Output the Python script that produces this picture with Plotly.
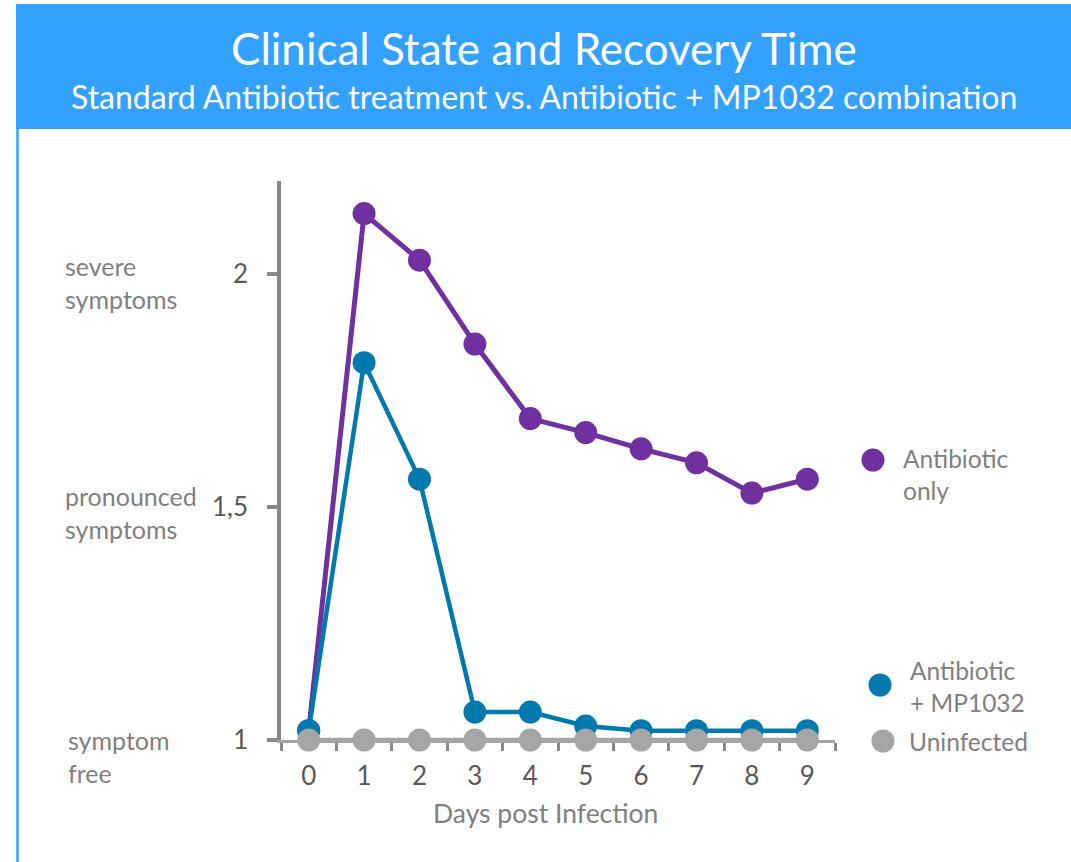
import plotly.graph_objects as go

# ---------------- data ----------------
days = [0, 1, 2, 3, 4, 5, 6, 7, 8, 9]
antibiotic_only = [1.02, 2.13, 2.03, 1.85, 1.69, 1.66, 1.625, 1.595, 1.53, 1.56]
antibiotic_mp1032 = [1.02, 1.81, 1.56, 1.06, 1.06, 1.03, 1.02, 1.02, 1.02, 1.02]
uninfected = [1, 1, 1, 1, 1, 1, 1, 1, 1, 1]

series_names = ["Antibiotic only", "Antibiotic + MP1032", "Uninfected"]
legend_labels = ["Antibiotic<br>only", "Antibiotic<br>+ MP1032", "Uninfected"]

y_tickvals = [1, 1.5, 2]
y_ticktext = ["1", "1,5", "2"]
level_values = [1, 1.5, 2]
level_labels = ["symptom<br>free", "pronounced<br>symptoms", "severe<br>symptoms"]

title_text = "Clinical State and Recovery Time"
subtitle_text = "Standard Antibiotic treatment vs. Antibiotic + MP1032 combination"
x_title = "Days post Infection"

# ---------------- style ----------------
W, H = 1071, 862
L, R, T, B = 281, 835, 181, 740
FONT = "Lato"
PURPLE = "#7030A0"
TEAL = "#0079AE"
GRAY = "#A5A5A5"
HEADER = "#33A1FF"
AXIS = "#888888"
DARK = "#595959"
MID = "#808080"


def px(x):
    return (x - L) / (R - L)


def py(y):
    return (B - y) / (B - T)


fig = go.Figure()
colors = [PURPLE, TEAL, GRAY]
widths = [5, 4.5, 4.5]
for name, vals, c, w in zip(series_names, [antibiotic_only, antibiotic_mp1032, uninfected], colors, widths):
    fig.add_trace(go.Scatter(
        x=days, y=vals, name=name, mode="lines+markers",
        line=dict(color=c, width=w),
        marker=dict(color=c, size=23),
        cliponaxis=False, showlegend=False,
    ))

shapes = [
    # header band
    dict(type="rect", xref="paper", yref="paper", x0=px(16), x1=px(1075), y0=py(129), y1=py(4),
         fillcolor=HEADER, line=dict(width=0), layer="below"),
    # left border line
    dict(type="line", xref="paper", yref="paper", x0=px(17.5), x1=px(17.5), y0=py(129), y1=py(870),
         line=dict(color=HEADER, width=2.5), layer="below"),
]

annotations = [
    dict(text=title_text, xref="paper", yref="paper", x=px(544), y=py(48),
         xanchor="center", yanchor="middle", showarrow=False,
         font=dict(family=FONT, size=44, color="white")),
    dict(text=subtitle_text, xref="paper", yref="paper", x=px(544), y=py(97),
         xanchor="center", yanchor="middle", showarrow=False,
         font=dict(family=FONT, size=32, color="white")),
    dict(text=x_title, xref="paper", yref="paper", x=px(545), y=py(813),
         xanchor="center", yanchor="middle", showarrow=False,
         font=dict(family=FONT, size=26.5, color=MID)),
]

# y level descriptions
level_shift = [-16, -5, -8]
level_x = [66, 63, 63]
for v, lab, sh, lx in zip(level_values, level_labels, level_shift, level_x):
    annotations.append(dict(text=lab, xref="paper", yref="y", x=px(lx), y=v, yshift=sh,
                            xanchor="left", yanchor="middle", align="left", showarrow=False,
                            font=dict(family=FONT, size=25, color=MID)))

# legend (dots + labels)
legend_dot = [(873, 460), (880, 685), (883, 741)]
legend_txt = [(901, 474), (908, 686), (907, 741)]
for c, lab, (dx, dy), (tx, ty) in zip(colors, legend_labels, legend_dot, legend_txt):
    shapes.append(dict(type="circle", xref="paper", yref="paper", xsizemode="pixel", ysizemode="pixel",
                       xanchor=px(dx), yanchor=py(dy), x0=-11.5, x1=11.5, y0=-11.5, y1=11.5,
                       fillcolor=c, line=dict(width=0)))
    annotations.append(dict(text=lab, xref="paper", yref="paper", x=px(tx), y=py(ty),
                            xanchor="left", yanchor="middle", align="left", showarrow=False,
                            font=dict(family=FONT, size=24.5, color=MID)))

fig.update_layout(
    width=W, height=H,
    margin=dict(l=L, r=W - R, t=T, b=H - B, pad=0),
    paper_bgcolor="white", plot_bgcolor="white",
    font=dict(family=FONT),
    shapes=shapes, annotations=annotations,
    showlegend=False,
    xaxis=dict(
        range=[-0.5, 9.5], tickvals=days, ticktext=[str(d) for d in days],
        showgrid=False, zeroline=False,
        showline=True, linecolor=GRAY, linewidth=3,
        ticks="outside", ticklen=11, tickcolor="rgba(0,0,0,0)",
        tickfont=dict(family=FONT, size=26, color=DARK),
        minor=dict(tickvals=[-0.5, 0.5, 1.5, 2.5, 3.5, 4.5, 5.5, 6.5, 7.5, 8.5, 9.5],
                   ticks="outside", ticklen=8, tickwidth=3, tickcolor=AXIS, showgrid=False),
        fixedrange=True,
    ),
    yaxis=dict(
        range=[1, 2.2], tickvals=y_tickvals, ticktext=y_ticktext,
        showgrid=False, zeroline=False,
        showline=True, linecolor=AXIS, linewidth=3.5,
        ticks="outside", ticklen=10, tickwidth=3.5, tickcolor=AXIS,
        ticklabelstandoff=14,
        tickfont=dict(family=FONT, size=26, color=DARK),
        fixedrange=True,
    ),
)

fig.write_html("out.html", config={"displayModeBar": False},
               post_script="document.body.style.margin='0';")
